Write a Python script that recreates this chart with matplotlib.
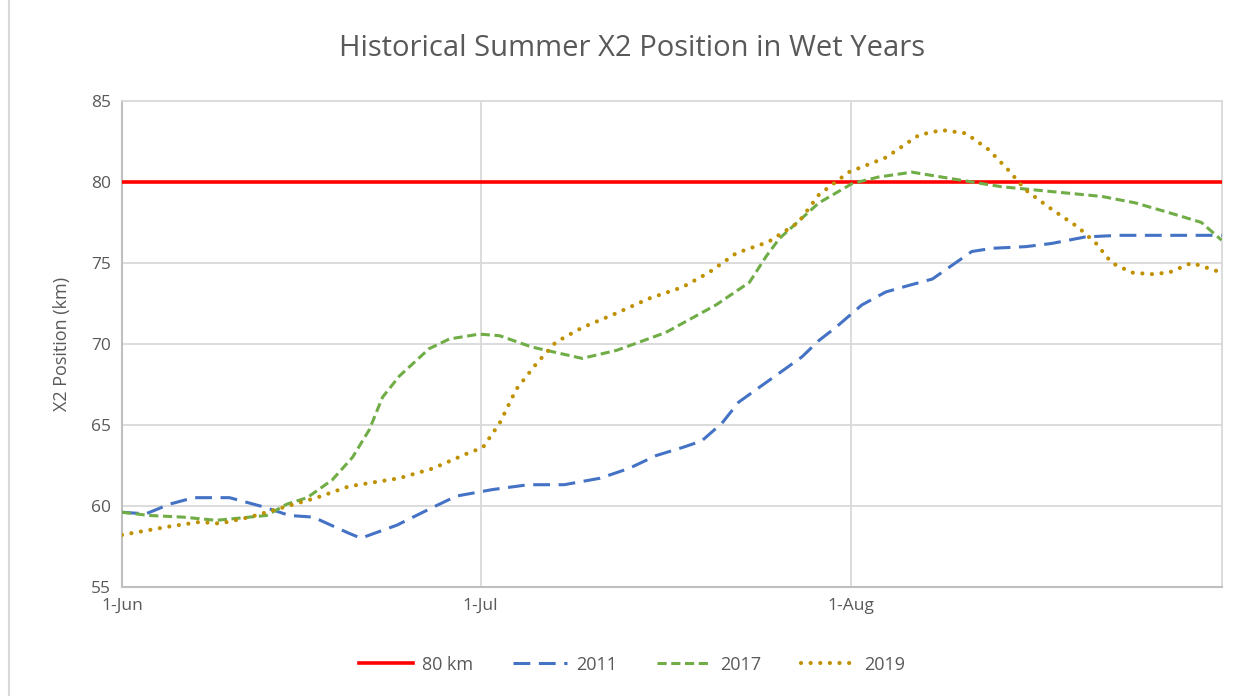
import matplotlib.pyplot as plt
from matplotlib.patches import Rectangle

# days since 1-Jun
days_2011 = [0, 2, 4, 6, 9, 12, 14, 16, 19, 20, 23, 26, 28, 31, 34, 37, 40, 42.4, 44.7, 46.9,
             48.5, 50.2, 51.6, 53.3, 55.2, 56.9, 58.3, 59.7, 61.9, 63.9, 65.8, 67.8, 71.1,
             72.8, 75.6, 77.8, 80.6, 83.4, 87.6, 92]
x2_2011 = [59.6, 59.5, 60.1, 60.5, 60.5, 59.9, 59.4, 59.3, 58.3, 58.0, 58.8, 59.9, 60.6, 61.0,
           61.3, 61.3, 61.7, 62.3, 63.1, 63.6, 64.0, 65.1, 66.4, 67.3, 68.3, 69.2, 70.2, 71.0,
           72.4, 73.2, 73.6, 74.0, 75.7, 75.9, 76.0, 76.2, 76.6, 76.7, 76.7, 76.7]

days_2017 = [0, 2.3, 5.1, 7.9, 10.7, 12.1, 13.8, 15.5, 17.6, 19.3, 20.7, 21.8, 23.2, 25.7,
             27.4, 29.9, 31.6, 34.3, 38.5, 41.4, 45.5, 49.7, 52.5, 53.9, 55.0, 58.3, 61.1,
             63.3, 66.1, 69.4, 73.6, 77.8, 82.0, 84.8, 87.6, 90.3, 92]
x2_2017 = [59.6, 59.4, 59.3, 59.1, 59.3, 59.4, 60.1, 60.5, 61.6, 63.0, 64.7, 66.7, 68.0, 69.7,
           70.3, 70.6, 70.5, 69.8, 69.1, 69.6, 70.7, 72.4, 73.8, 75.4, 76.5, 78.7, 79.9,
           80.3, 80.6, 80.2, 79.7, 79.4, 79.1, 78.7, 78.1, 77.5, 76.4]

days_2019 = [0, 3.8, 6.5, 8.2, 10.7, 13.5, 16.3, 19.0, 23.2, 26.0, 28.8, 30.2, 31.6, 33.0,
             34.7, 36.3, 38.5, 41.4, 44.1, 46.9, 49.1, 51.4, 54.1, 56.6, 58.3, 60.8, 63.9,
             66.7, 68.6, 70.6, 72.5, 74.2, 75.6, 77.8, 80.0, 81.5, 82.8, 84.5, 86.1, 87.6,
             89.5, 92]
x2_2019 = [58.2, 58.7, 59.0, 58.9, 59.3, 59.9, 60.5, 61.2, 61.7, 62.3, 63.2, 63.6, 65.1, 67.2,
           68.8, 70.1, 71.0, 71.9, 72.8, 73.5, 74.4, 75.6, 76.3, 77.5, 79.2, 80.6, 81.5,
           82.9, 83.2, 83.0, 82.0, 80.7, 79.5, 78.3, 77.2, 76.2, 75.0, 74.4, 74.3, 74.4,
           75.0, 74.4]

limit_km = 80
tick_days = [0, 30, 61]
tick_labels = ['1-Jun', '1-Jul', '1-Aug']

plt.rcParams['font.family'] = ['Open Sans', 'DejaVu Sans']
text_gray = '#595959'

fig = plt.figure(figsize=(12.44, 6.96), dpi=100)
ax = fig.add_axes([0.098, 0.157, 0.884, 0.698])

# chart border
fig.patches.append(Rectangle((0.007, -0.01), 1.0, 1.02, transform=fig.transFigure,
                             fill=False, edgecolor='#D9D9D9', linewidth=1.5))

ax.plot([0, 92], [limit_km, limit_km], color='#FF0000', lw=2.6, label='80 km', zorder=3)
ax.plot(days_2011, x2_2011, color='#4472C4', lw=2.2, dashes=(5.5, 2.8), label='2011', zorder=4)
ax.plot(days_2017, x2_2017, color='#70AD47', lw=2.2, dashes=(3.0, 1.5), label='2017', zorder=4)
ax.plot(days_2019, x2_2019, color='#BF9000', lw=3.0, dashes=(0.01, 2.3),
        dash_capstyle='round', label='2019', zorder=5)

ax.set_xlim(0, 92)
ax.set_ylim(55, 85)
ax.set_yticks(range(55, 86, 5))
ax.set_xticks(tick_days)
ax.set_xticklabels(tick_labels)
ax.tick_params(length=0, labelsize=12.5, colors=text_gray, pad=8)
ax.grid(True, color='#D9D9D9', lw=1.3)
ax.set_axisbelow(True)
for side in ['top', 'right']:
    ax.spines[side].set_color('#D9D9D9')
    ax.spines[side].set_linewidth(1.3)
for side in ['left', 'bottom']:
    ax.spines[side].set_color('#BFBFBF')
    ax.spines[side].set_linewidth(1.5)

ax.set_ylabel('X2 Position (km)', fontsize=13, color=text_gray, labelpad=14)
fig.text(0.508, 0.93, 'Historical Summer X2 Position in Wet Years', ha='center',
         va='center', fontsize=21, color=text_gray)

fig.legend(loc='center', bbox_to_anchor=(0.508, 0.045), ncol=4, frameon=False,
           fontsize=13, handlelength=3.0, handletextpad=0.5, columnspacing=2.2,
           labelcolor=text_gray)

fig.savefig('out.png', dpi=100)
